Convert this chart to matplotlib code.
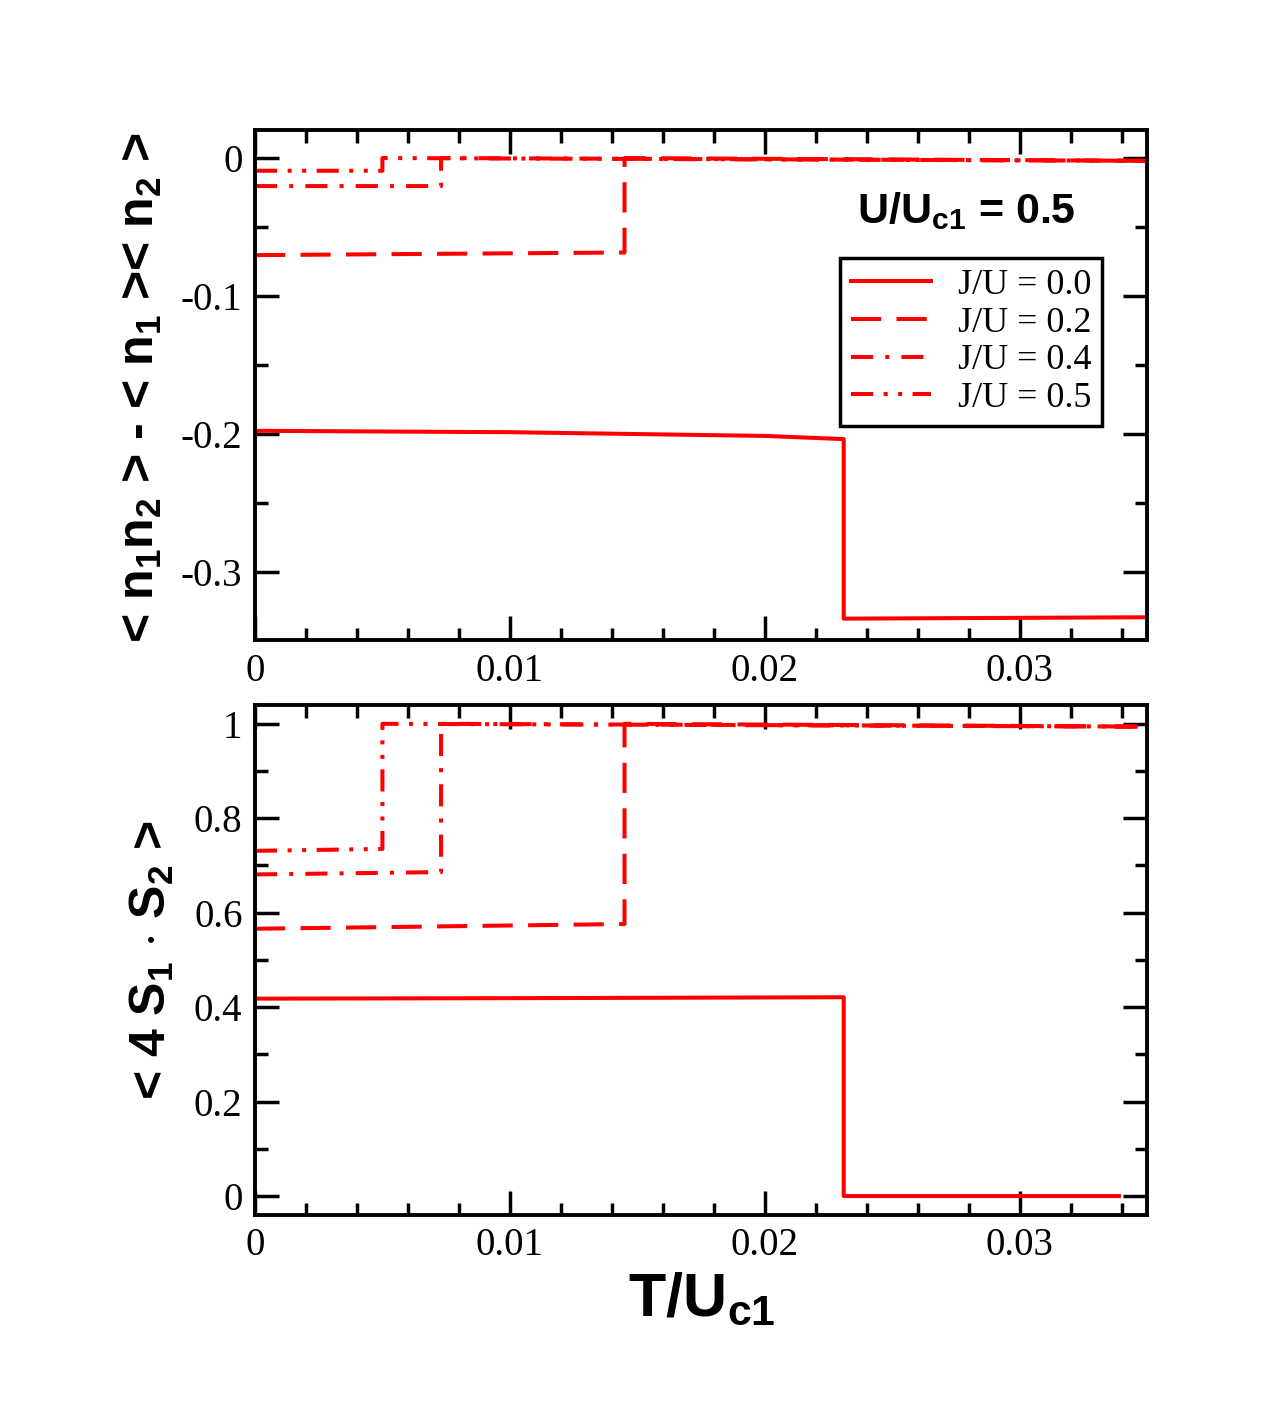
import matplotlib
matplotlib.use('Agg')
import matplotlib.pyplot as plt
from matplotlib.ticker import MultipleLocator, FormatStrFormatter

plt.rcParams['font.family'] = 'Liberation Serif'
plt.rcParams['mathtext.fontset'] = 'custom'
plt.rcParams['mathtext.default'] = 'regular'

# ==============================================================
# DADOS
# ==============================================================

rotulos = ['J/U = 0.0', 'J/U = 0.2', 'J/U = 0.4', 'J/U = 0.5']

# J/U = 0.0
t_00 = [0.0, 0.01, 0.02, 0.0231, 0.0231, 0.035]
n_00 = [-0.1975, -0.1985, -0.2012, -0.2035, -0.3335, -0.3325]
t_00s = [0.0, 0.01, 0.02, 0.0231, 0.0231, 0.0339]
s_00 = [0.418, 0.419, 0.4205, 0.421, 0.0, 0.0]

# J/U = 0.2
t_02 = [0.0, 0.0145, 0.0145, 0.035]
n_02 = [-0.0703, -0.0684, 0.0, -0.002]
s_02 = [0.566, 0.576, 1.0, 0.994]

# J/U = 0.4
t_04 = [0.0, 0.0073, 0.0073, 0.035]
n_04 = [-0.0203, -0.0203, 0.0, -0.002]
s_04 = [0.681, 0.686, 1.0, 0.994]

# J/U = 0.5
t_05 = [0.0, 0.0050, 0.0050, 0.035]
n_05 = [-0.0092, -0.0092, 0.0, -0.002]
s_05 = [0.731, 0.735, 1.0, 0.994]

estilos = ['-', (0, (7.5, 3.8)), (0, (5.5, 3, 1, 3)), (0, (5.5, 2.6, 1, 2.6, 1, 2.6))]
cor = '#ff0000'
lw = 2.9

# ==============================================================
# FIGURA
# ==============================================================

fig = plt.figure(figsize=(12.75, 14.07), dpi=100)
ax1 = fig.add_axes([0.2, 0.5451, 0.6996, 0.3625])
ax2 = fig.add_axes([0.2, 0.1365, 0.6996, 0.3625])

ax1.plot(t_00, n_00, color=cor, lw=lw, ls=estilos[0], label=rotulos[0])
ax1.plot(t_02, n_02, color=cor, lw=lw, ls=estilos[1], label=rotulos[1])
ax1.plot(t_04, n_04, color=cor, lw=lw, ls=estilos[2], label=rotulos[2])
ax1.plot(t_05, n_05, color=cor, lw=lw, ls=estilos[3], label=rotulos[3])

ax2.plot(t_00s, s_00, color=cor, lw=lw, ls=estilos[0])
ax2.plot(t_02, s_02, color=cor, lw=lw, ls=estilos[1])
ax2.plot(t_04, s_04, color=cor, lw=lw, ls=estilos[2])
ax2.plot(t_05, s_05, color=cor, lw=lw, ls=estilos[3])

ax1.set_ylim(-0.349, 0.0203)
ax2.set_ylim(-0.040, 1.040)

for ax in (ax1, ax2):
    ax.set_xlim(0, 0.035)
    ax.xaxis.set_major_locator(MultipleLocator(0.01))
    ax.xaxis.set_minor_locator(MultipleLocator(0.002))
    ax.xaxis.set_major_formatter(FormatStrFormatter('%g'))
    ax.tick_params(which='both', direction='in', top=True, right=True,
                   width=2.5, labelsize=28, pad=9)
    ax.tick_params(which='major', length=17)
    ax.tick_params(which='minor', length=9)
    for s in ax.spines.values():
        s.set_linewidth(2.8)

ax1.yaxis.set_major_locator(MultipleLocator(0.1))
ax1.yaxis.set_minor_locator(MultipleLocator(0.05))
ax1.yaxis.set_major_formatter(FormatStrFormatter('%g'))
ax2.yaxis.set_major_locator(MultipleLocator(0.2))
ax2.yaxis.set_minor_locator(MultipleLocator(0.1))
ax2.yaxis.set_major_formatter(FormatStrFormatter('%g'))

sans = 'Liberation Sans'
ax1.text(0.675, 0.818, 'U/U$_{c1}$ = 0.5', transform=ax1.transAxes,
         family=sans, weight='bold', fontsize=31, ha='left', va='baseline')

leg = ax1.legend(loc='upper right', bbox_to_anchor=(0.9496, 0.749), borderaxespad=0,
                 fontsize=26, fancybox=False, framealpha=1, edgecolor='black',
                 handlelength=2.2, handletextpad=0.75, labelspacing=0.12,
                 borderpad=0.3)
leg.get_frame().set_linewidth(2.5)

fig.text(0.1106, 0.7242, '< n$_1$n$_2$ > - < n$_1$ >< n$_2$ >', rotation=90,
         family=sans, weight='bold', fontsize=36, ha='center', va='center')
fig.text(0.119, 0.3177, '< 4 S$_1$ $\\cdot$ S$_2$ >', rotation=90,
         family=sans, weight='bold', fontsize=36, ha='center', va='center')
fig.text(0.55, 0.0654, 'T/U$_{c1}$', family=sans, weight='bold', fontsize=44,
         ha='center', va='baseline')

fig.savefig('out.png', dpi=100)
